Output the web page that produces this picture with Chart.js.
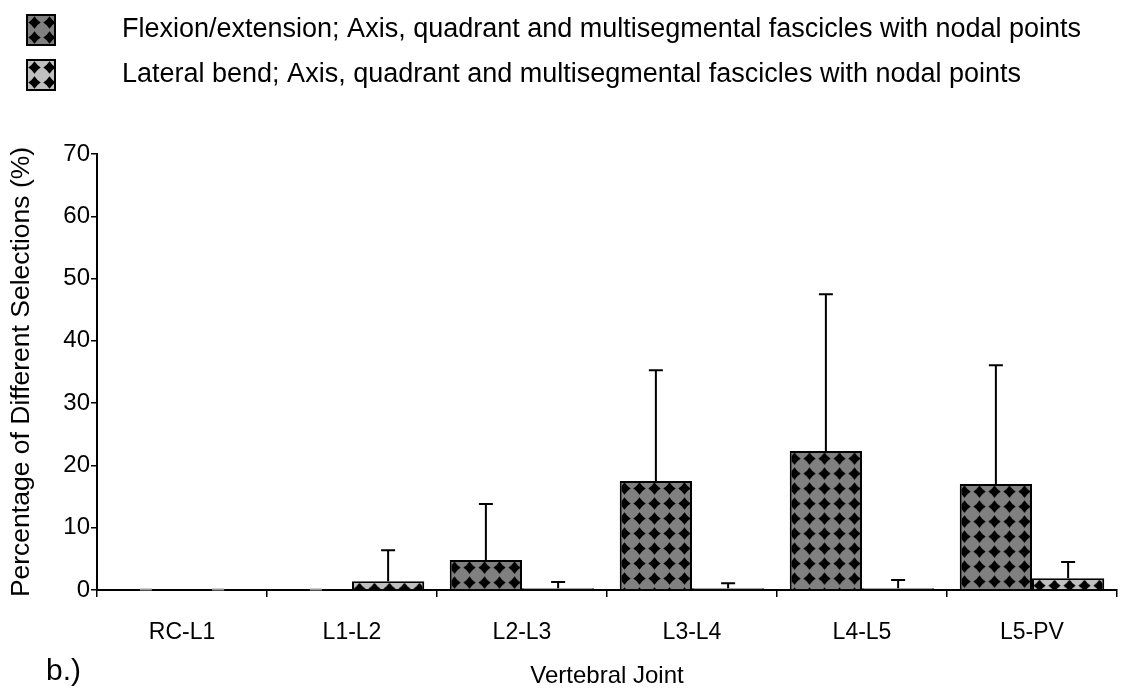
<!DOCTYPE html>
<html>
<head>
<meta charset="utf-8">
<script src="https://cdn.jsdelivr.net/npm/chart.js@4.4.1/dist/chart.umd.min.js"></script>
<style>
  html, body { margin: 0; padding: 0; background: #fff; }
  #wrap { position: relative; width: 1121px; height: 691px; }
</style>
</head>
<body>
<div id="wrap"><canvas id="jointChart" width="1121" height="691"></canvas></div>
<script>
var joints = ['RC-L1', 'L1-L2', 'L2-L3', 'L3-L4', 'L4-L5', 'L5-PV'];
var flexLabel = 'Flexion/extension; Axis, quadrant and multisegmental fascicles with nodal points';
var lateralLabel = 'Lateral bend; Axis, quadrant and multisegmental fascicles with nodal points';
var flexMean = [0, 0, 4.8, 17.5, 22.3, 17.0];
var flexSD = [0, 0, 9.0, 17.8, 25.2, 19.1];
var lateralMean = [0, 1.4, 0.3, 0.3, 0.3, 1.9];
var lateralSD = [0, 5.0, 1.0, 0.8, 1.3, 2.6];
var yTicks = [0, 10, 20, 30, 40, 50, 60, 70];

var FONT = "'Liberation Sans', Arial, sans-serif";

// 15px tile: grey ground with a black diamond (pinched sides)
function makeTile(bg) {
    var c = document.createElement('canvas');
    c.width = 15;
    c.height = 15;
    var g = c.getContext('2d');
    g.fillStyle = bg;
    g.fillRect(0, 0, 15, 15);
    var cx = 7.5, cy = 7.5, r = 6.2, k = 2.4;
    g.fillStyle = '#000';
    g.beginPath();
    g.moveTo(cx, cy - r);
    g.quadraticCurveTo(cx + k, cy - k, cx + r, cy);
    g.quadraticCurveTo(cx + k, cy + k, cx, cy + r);
    g.quadraticCurveTo(cx - k, cy + k, cx - r, cy);
    g.quadraticCurveTo(cx - k, cy - k, cx, cy - r);
    g.fill();
    return c;
}

var darkTile = makeTile('#808080');
var lightTile = makeTile('#c0c0c0');

// pattern fill anchored to the top of each bar
function barFill(tile, plain) {
    return function (context) {
        if (context.type !== 'data') return plain;
        var chart = context.chart;
        var pat = chart.ctx.createPattern(tile, 'repeat');
        var top = chart.scales.y.getPixelForValue(context.raw);
        var cx = chart.scales.x.getPixelForValue(context.dataIndex);
        pat.setTransform(new DOMMatrix([1, 0, 0, 1, cx, top]));
        return pat;
    };
}

var errorBars = {
    id: 'errorBars',
    afterDatasetsDraw: function (chart) {
        var ctx = chart.ctx;
        var y = chart.scales.y;
        ctx.save();
        chart.data.datasets.forEach(function (ds, i) {
            var meta = chart.getDatasetMeta(i);
            meta.data.forEach(function (bar, j) {
                var mean = ds.data[j];
                if (mean === 0) {
                    // empty cell: short grey stub on the axis
                    ctx.strokeStyle = '#9a9a9a';
                    ctx.lineWidth = 2;
                    ctx.beginPath();
                    ctx.moveTo(bar.x - 6, y.getPixelForValue(0) - 0.5);
                    ctx.lineTo(bar.x + 6, y.getPixelForValue(0) - 0.5);
                    ctx.stroke();
                    return;
                }
                var top = y.getPixelForValue(mean + ds.sd[j]);
                ctx.strokeStyle = '#000';
                ctx.lineWidth = 2;
                ctx.beginPath();
                ctx.moveTo(bar.x, bar.y);
                ctx.lineTo(bar.x, top);
                ctx.moveTo(bar.x - 7, top);
                ctx.lineTo(bar.x + 7, top);
                ctx.stroke();
            });
        });
        ctx.restore();
    }
};

var legendRows = {
    id: 'legendRows',
    afterDraw: function (chart) {
        var ctx = chart.ctx;
        ctx.save();
        chart.data.datasets.forEach(function (ds, i) {
            var top = 15 + i * 45;
            var pat = ctx.createPattern(ds.tile, 'repeat');
            pat.setTransform(new DOMMatrix([1, 0, 0, 1, 27, top]));
            ctx.fillStyle = pat;
            ctx.fillRect(27, top, 28, 30);
            ctx.strokeStyle = '#000';
            ctx.lineWidth = 2;
            ctx.strokeRect(27, top, 28, 30);
            ctx.fillStyle = '#000';
            ctx.font = '27px ' + FONT;
            ctx.textBaseline = 'middle';
            ctx.fillText(ds.label, 122, top + 15);
        });
        // panel tag
        ctx.font = '30px ' + FONT;
        ctx.textBaseline = 'alphabetic';
        ctx.fillText('b.)', 46, 680);
        ctx.restore();
    }
};

new Chart(document.getElementById('jointChart'), {
    type: 'bar',
    data: {
        labels: joints,
        datasets: [{
            label: flexLabel,
            data: flexMean,
            sd: flexSD,
            tile: darkTile,
            backgroundColor: barFill(darkTile, '#808080'),
            borderColor: '#000',
            borderWidth: 2,
            categoryPercentage: 0.85,
            barPercentage: 1.0
        }, {
            label: lateralLabel,
            data: lateralMean,
            sd: lateralSD,
            tile: lightTile,
            backgroundColor: barFill(lightTile, '#c0c0c0'),
            borderColor: '#000',
            borderWidth: 2,
            categoryPercentage: 0.85,
            barPercentage: 1.0
        }]
    },
    options: {
        responsive: false,
        animation: false,
        events: [],
        layout: { padding: { top: 154, right: 4, bottom: 0, left: 0 } },
        plugins: {
            legend: { display: false },
            tooltip: { enabled: false }
        },
        scales: {
            x: {
                grid: { drawOnChartArea: false, drawTicks: true, tickLength: 7, color: '#000', lineWidth: 1.5 },
                border: { display: true, color: '#000', width: 2 },
                ticks: { color: '#000', padding: 22, font: { family: FONT, size: 23 } },
                title: { display: true, text: 'Vertebral Joint', color: '#000', font: { family: FONT, size: 24 }, padding: 0 },
                afterFit: function (s) { s.height = 101; }
            },
            y: {
                min: 0,
                max: 70,
                grid: { drawOnChartArea: false, drawTicks: true, tickLength: 6, color: '#000', lineWidth: 1.5 },
                border: { display: true, color: '#000', width: 2 },
                ticks: { color: '#000', padding: 1, font: { family: FONT, size: 24 } },
                afterBuildTicks: function (s) {
                    s.ticks = yTicks.map(function (v) { return { value: v }; });
                },
                title: { display: true, text: 'Percentage of Different Selections (%)', color: '#000', font: { family: FONT, size: 26.5 }, padding: { top: 6 } },
                afterFit: function (s) { s.width = 97; }
            }
        }
    },
    plugins: [errorBars, legendRows]
});
</script>
</body>
</html>
